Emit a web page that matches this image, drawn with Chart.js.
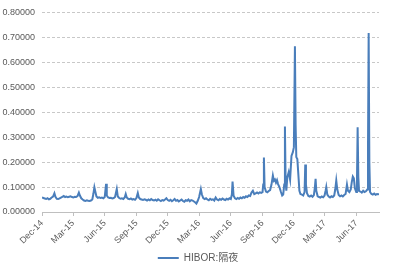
<!DOCTYPE html>
<html lang="zh">
<head>
<meta charset="UTF-8">
<title>HIBOR:隔夜</title>
<script src="https://cdn.jsdelivr.net/npm/chart.js"></script>
<style>
  html, body { margin: 0; padding: 0; background: #fff; }
  #wrap { width: 396px; height: 273px; }
</style>
</head>
<body>
<div id="wrap"><canvas id="chart" width="396" height="273"></canvas></div>
<script>
// Jours écoulés depuis le 1er décembre 2014
const tickDays = [0, 90, 182, 274, 365, 456, 548, 640, 731, 821, 913];
const tickLabels = ['Dec-14', 'Mar-15', 'Jun-15', 'Sep-15', 'Dec-15', 'Mar-16', 'Jun-16', 'Sep-16', 'Dec-16', 'Mar-17', 'Jun-17'];
const seriesName = 'HIBOR:隔夜';

const days = [
  0, 4, 8, 12, 16, 20, 24, 28, 32, 36, 39, 43, 47, 51, 55, 59, 63, 67, 71, 75, 79, 83, 87, 91, 95, 99,
  103, 107, 110, 114, 118, 122, 126, 130, 134, 138, 142, 146, 149, 152, 155, 158, 162, 166, 170, 174, 178, 182,
  186, 188, 192, 196, 200, 204, 208, 212, 217, 220, 224, 228, 232, 236, 240, 243, 246, 250, 254, 258, 262, 266,
  270, 274, 278, 281, 285, 289, 293, 297, 301, 305, 309, 313, 317, 321, 325, 329, 333, 337, 341, 345, 349, 353,
  357, 361, 365, 369, 373, 377, 381, 385, 389, 393, 397, 401, 405, 409, 413, 417, 421, 425, 429, 433, 437, 441,
  445, 448, 452, 456, 461, 464, 468, 472, 476, 480, 484, 488, 492, 496, 500, 504, 508, 512, 516, 520, 524, 528,
  532, 536, 540, 544, 548, 551, 553, 556, 560, 564, 568, 572, 576, 580, 584, 588, 592, 596, 600, 604, 608, 612,
  616, 620, 624, 628, 632, 636, 640, 642, 644, 646, 650, 654, 658, 662, 666, 670, 673, 676, 679, 682, 685, 689,
  693, 697, 700, 703, 705, 707, 709, 712, 716, 720, 724, 728, 731, 734, 736, 738, 741, 744, 747, 750, 754, 758,
  762, 764, 766, 769, 773, 777, 781, 785, 789, 792, 794, 796, 800, 804, 808, 812, 816, 820, 823, 825, 828, 832,
  836, 840, 844, 848, 851, 854, 857, 861, 865, 869, 873, 877, 881, 885, 888, 892, 896, 899, 902, 905, 908, 912,
  914, 916, 918, 920, 924, 928, 932, 936, 940, 944, 946, 948, 950, 952, 956, 960, 964, 968, 972, 976, 978
];

const rates = [
  0.058, 0.056, 0.054, 0.052, 0.055, 0.051, 0.053, 0.058, 0.062, 0.075, 0.061, 0.053, 0.052, 0.055, 0.058, 0.061, 0.064, 0.060, 0.062, 0.059, 0.061, 0.063, 0.060, 0.058, 0.061, 0.060,
  0.064, 0.078, 0.066, 0.055, 0.050, 0.046, 0.044, 0.047, 0.045, 0.044, 0.046, 0.050, 0.072, 0.099, 0.080, 0.062, 0.057, 0.059, 0.056, 0.058, 0.055, 0.060,
  0.113, 0.066, 0.058, 0.056, 0.057, 0.054, 0.056, 0.060, 0.092, 0.062, 0.056, 0.053, 0.055, 0.052, 0.058, 0.072, 0.058, 0.053, 0.051, 0.054, 0.050, 0.052,
  0.049, 0.056, 0.076, 0.058, 0.052, 0.050, 0.048, 0.051, 0.049, 0.046, 0.050, 0.047, 0.052, 0.048, 0.046, 0.049, 0.045, 0.051, 0.047, 0.044, 0.048, 0.046,
  0.050, 0.055, 0.048, 0.045, 0.049, 0.043, 0.047, 0.052, 0.045, 0.048, 0.042, 0.046, 0.050, 0.044, 0.041, 0.047, 0.045, 0.050, 0.043, 0.048, 0.046, 0.042,
  0.038, 0.034, 0.045, 0.060, 0.092, 0.070, 0.056, 0.052, 0.055, 0.050, 0.047, 0.053, 0.049, 0.051, 0.046, 0.058, 0.050, 0.047, 0.052, 0.049, 0.054, 0.050,
  0.048, 0.053, 0.050, 0.055, 0.052, 0.070, 0.122, 0.065, 0.055, 0.052, 0.056, 0.053, 0.058, 0.055, 0.060, 0.057, 0.063, 0.060, 0.066, 0.064, 0.078, 0.085,
  0.072, 0.075, 0.078, 0.074, 0.079, 0.077, 0.080, 0.110, 0.218, 0.100, 0.082, 0.079, 0.084, 0.088, 0.110, 0.146, 0.125, 0.130, 0.118, 0.128, 0.112, 0.100,
  0.082, 0.066, 0.070, 0.110, 0.343, 0.120, 0.085, 0.140, 0.160, 0.130, 0.225, 0.240, 0.260, 0.664, 0.350, 0.220, 0.212, 0.150, 0.085, 0.072, 0.070, 0.066,
  0.080, 0.190, 0.110, 0.075, 0.064, 0.062, 0.066, 0.061, 0.068, 0.100, 0.133, 0.085, 0.063, 0.060, 0.058, 0.062, 0.059, 0.066, 0.085, 0.100, 0.070, 0.062,
  0.058, 0.063, 0.060, 0.066, 0.090, 0.126, 0.090, 0.068, 0.063, 0.066, 0.062, 0.068, 0.072, 0.110, 0.085, 0.080, 0.090, 0.120, 0.142, 0.135, 0.095, 0.080,
  0.120, 0.340, 0.140, 0.085, 0.082, 0.078, 0.085, 0.080, 0.083, 0.090, 0.250, 0.717, 0.200, 0.080, 0.072, 0.070, 0.074, 0.069, 0.072, 0.071, 0.072
];

const lineColor = '#4a7ebb';
const textColor = '#595959';
const points = days.map((d, i) => ({ x: d, y: rates[i] }));

// Centrer la légende sur toute la largeur du canvas (et non sur la zone sans padding)
const legendFullWidth = {
  id: 'legendFullWidth',
  afterLayout(chart) {
    const lg = chart.legend;
    if (!lg) return;
    lg.left = 0;
    lg.right = chart.width;
    lg.width = chart.width;
  }
};

new Chart(document.getElementById('chart'), {
  type: 'line',
  data: {
    datasets: [{
      label: seriesName,
      data: points,
      borderColor: lineColor,
      backgroundColor: lineColor,
      borderWidth: 2,
      pointRadius: 0,
      tension: 0,
      fill: false
    }]
  },
  options: {
    responsive: false,
    animation: false,
    layout: { padding: { top: 10, right: 17, left: 0, bottom: 0 } },
    plugins: {
      tooltip: { enabled: false },
      legend: {
        position: 'bottom',
        labels: {
          color: textColor,
          font: { family: "'Liberation Sans', 'Noto Sans CJK SC', sans-serif", size: 10 },
          boxWidth: 21,
          boxHeight: 2,
          padding: 4,
          // trait fin sans contour, comme une ligne de légende Excel
          generateLabels: (chart) => Chart.defaults.plugins.legend.labels.generateLabels(chart)
            .map((item) => ({ ...item, lineWidth: 0 }))
        }
      }
    },
    scales: {
      x: {
        type: 'linear',
        min: 0,
        max: 978,
        afterBuildTicks: (axis) => { axis.ticks = tickDays.map((v) => ({ value: v })); },
        afterFit: (axis) => { axis.height = 37; },
        ticks: {
          color: textColor,
          font: { family: "'Liberation Sans', sans-serif", size: 9 },
          maxRotation: 45,
          minRotation: 45,
          autoSkip: false,
          padding: 2,
          callback: (value) => tickLabels[tickDays.indexOf(value)]
        },
        grid: { drawOnChartArea: false, drawTicks: true, tickLength: 4, color: '#bfbfbf' },
        border: { display: true, color: '#bfbfbf' }
      },
      y: {
        min: 0,
        max: 0.8,
        afterFit: (axis) => { axis.width = 42; },
        ticks: {
          stepSize: 0.1,
          color: textColor,
          font: { family: "'Liberation Sans', sans-serif", size: 9 },
          padding: 7,
          callback: (value) => value.toFixed(5)
        },
        grid: { color: '#c8c8c8', drawTicks: false },
        border: { display: false, dash: [3, 2] }
      }
    }
  },
  plugins: [legendFullWidth]
});
</script>
</body>
</html>
